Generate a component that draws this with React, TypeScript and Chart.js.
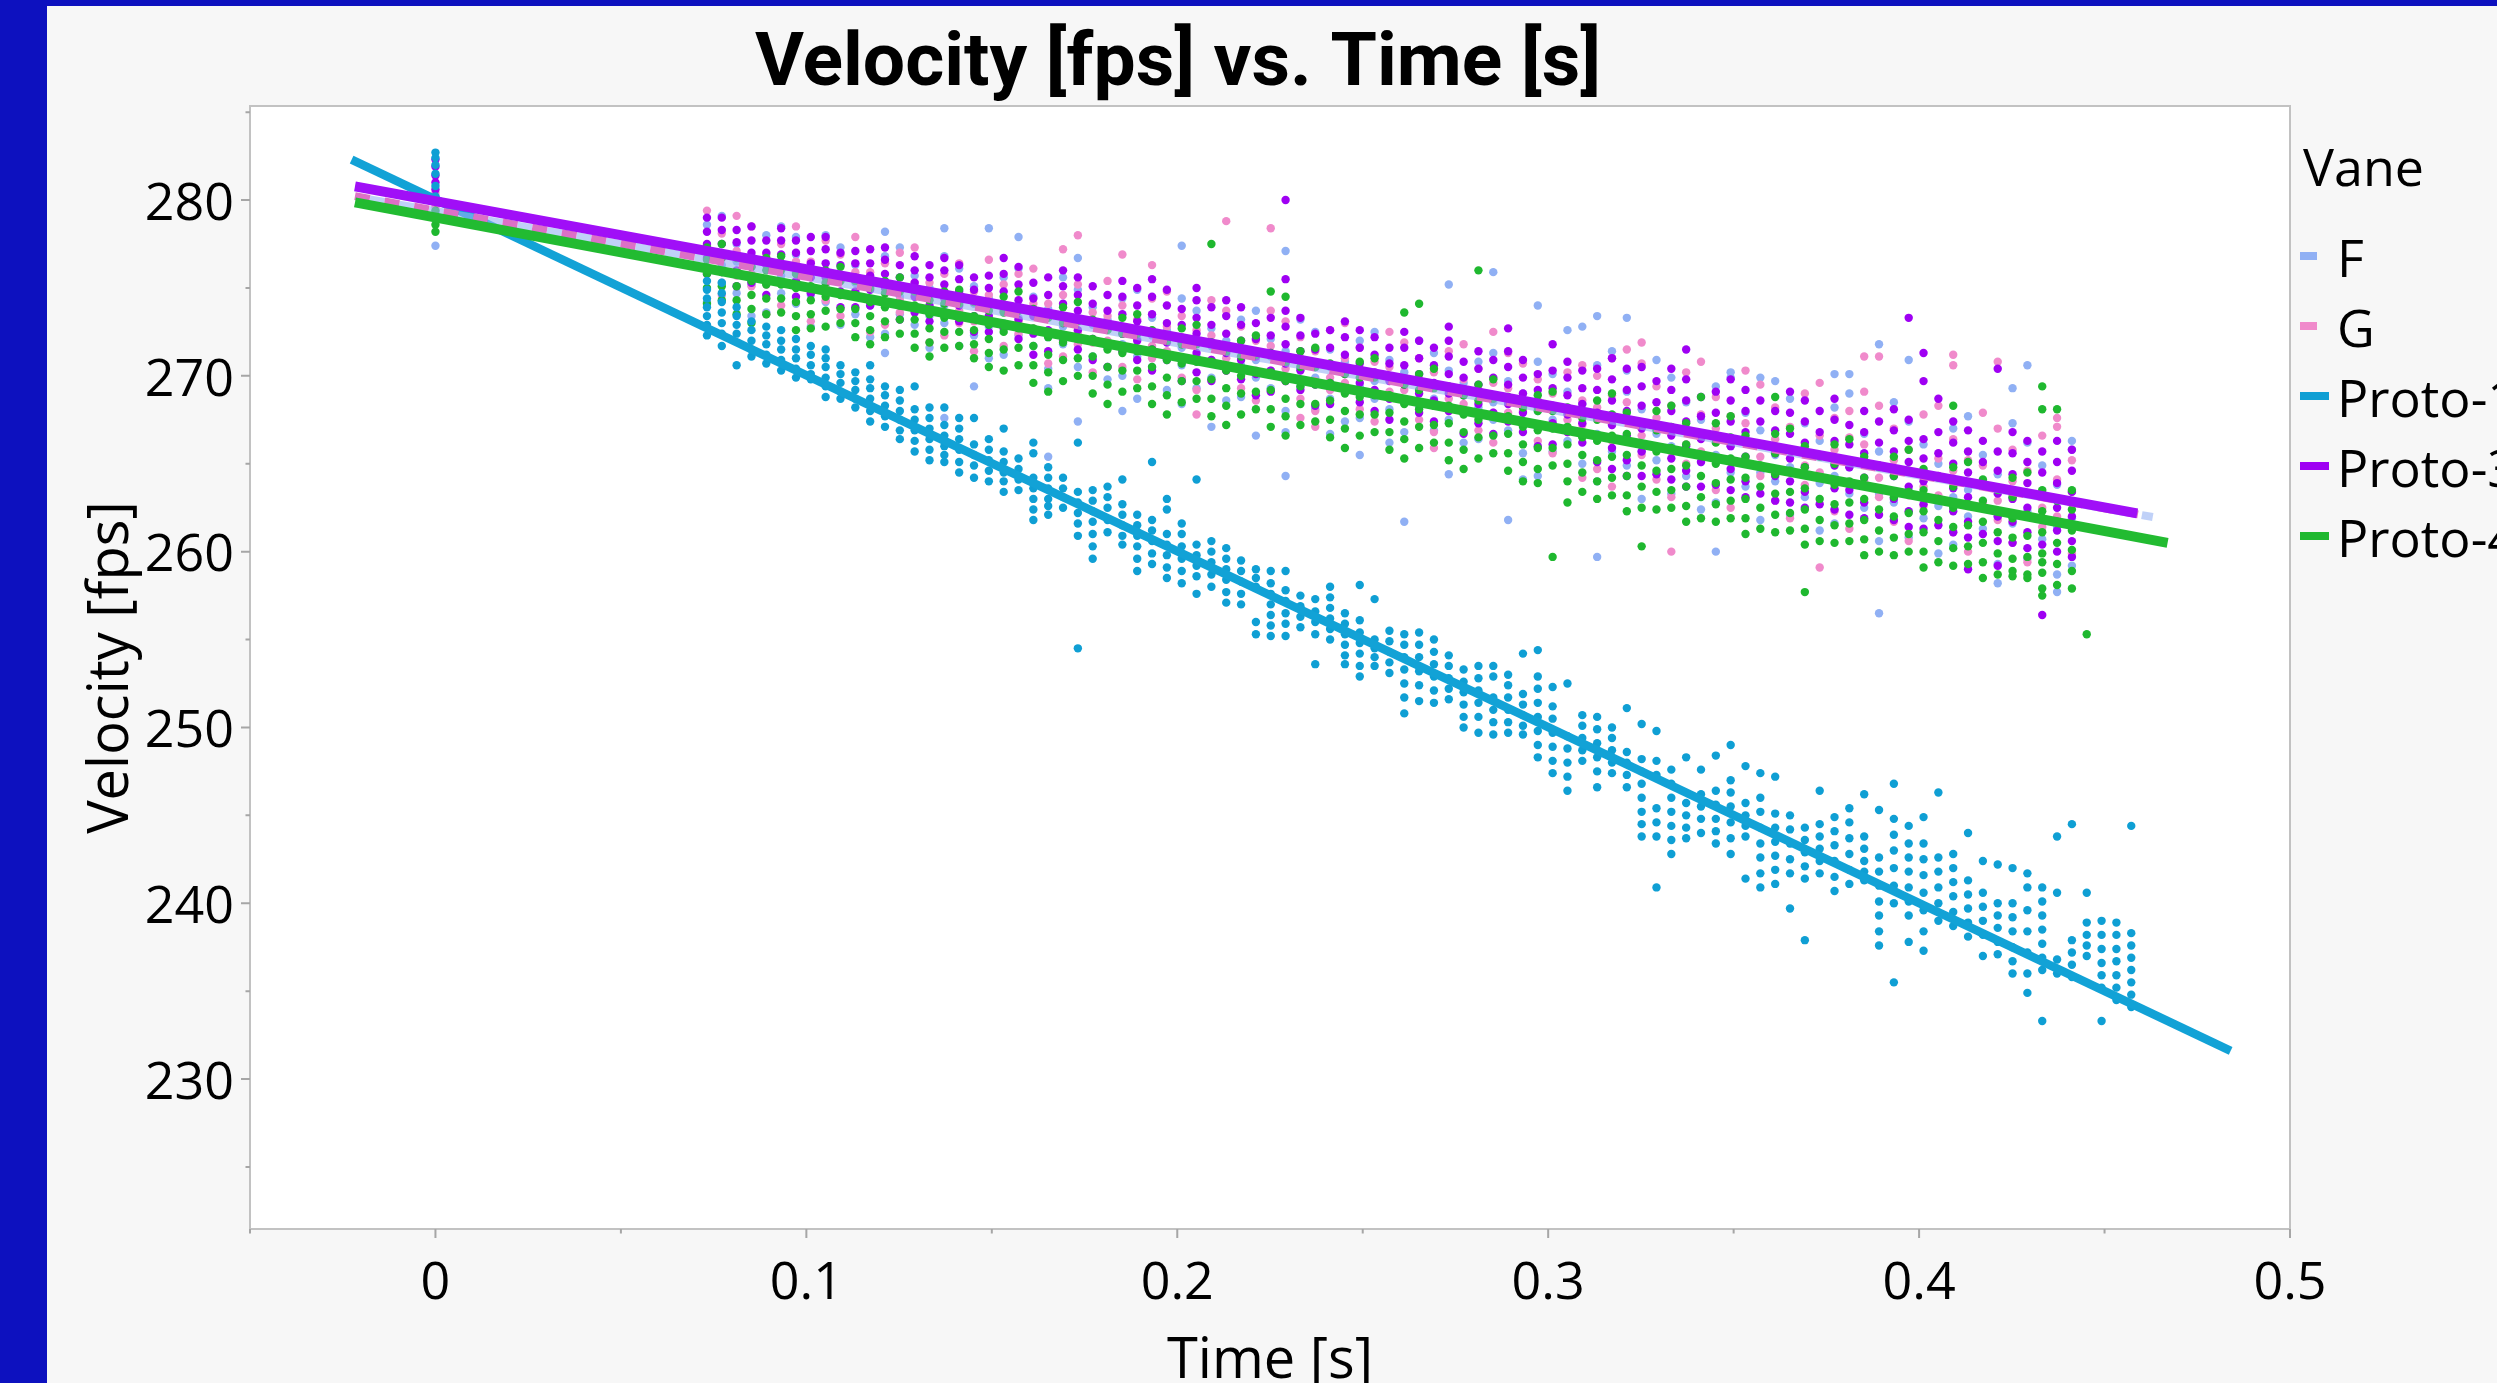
import React, { useEffect, useRef } from "react";
import { Chart, registerables } from "chart.js";
Chart.register(...registerables);

// Time columns (s): index 0 is t = 0, then the sampled frames
const TIMES = [0, 0.0732, 0.0772, 0.0812, 0.0852, 0.0892, 0.0932, 0.0972, 0.1012, 0.1052, 0.1092, 0.1132, 0.1172, 0.1212, 0.1252, 0.1292, 0.1332, 0.1372, 0.1412, 0.1452, 0.1492, 0.1532, 0.1572, 0.1612, 0.1652, 0.1692, 0.1732, 0.1772, 0.1812, 0.1852, 0.1892, 0.1932, 0.1972, 0.2012, 0.2052, 0.2092, 0.2132, 0.2172, 0.2212, 0.2252, 0.2292, 0.2332, 0.2372, 0.2412, 0.2452, 0.2492, 0.2532, 0.2572, 0.2612, 0.2652, 0.2692, 0.2732, 0.2772, 0.2812, 0.2852, 0.2892, 0.2932, 0.2972, 0.3012, 0.3052, 0.3092, 0.3132, 0.3172, 0.3212, 0.3252, 0.3292, 0.3332, 0.3372, 0.3412, 0.3452, 0.3492, 0.3532, 0.3572, 0.3612, 0.3652, 0.3692, 0.3732, 0.3772, 0.3812, 0.3852, 0.3892, 0.3932, 0.3972, 0.4012, 0.4052, 0.4092, 0.4132, 0.4172, 0.4212, 0.4252, 0.4292, 0.4332, 0.4372, 0.4412, 0.4452, 0.4492, 0.4532, 0.4572];

// Velocity readings (fps) per time column, one list per column
const PROTO1_COLS: number[][] = [
  [282.7, 282.4, 282.0, 281.5, 280.8, 280.2],
  [275.4, 274.9, 274.4, 273.9, 273.4, 272.9, 272.3], [275.3, 274.7, 274.2, 273.6, 273.0, 272.4, 271.7], [273.9, 273.4, 272.9, 272.4, 270.6], [273.1, 272.6, 272.0, 271.5, 271.1], [272.8, 272.3, 271.8, 271.2, 270.7],
  [272.6, 272.0, 271.5, 270.9, 270.3], [272.1, 271.5, 271.0, 270.4, 269.9], [271.7, 271.2, 270.6, 270.1, 269.8], [271.5, 271.0, 270.5, 269.9, 269.4, 268.8], [270.6, 270.1, 269.6, 269.1, 268.7],
  [270.2, 269.7, 269.2, 268.7, 268.2], [270.6, 269.8, 269.3, 268.7, 268.0, 267.4], [269.4, 268.9, 268.3, 267.7, 267.1], [269.2, 268.6, 268.0, 267.5, 266.9, 266.4], [269.4, 268.1, 267.5, 266.9, 266.3, 265.7],
  [268.2, 267.6, 267.0, 266.4, 265.8, 265.2], [268.2, 267.2, 266.6, 266.0, 265.5, 265.1], [267.6, 267.0, 266.4, 265.8, 265.1, 264.5], [267.6, 266.1, 265.5, 264.9, 264.2], [266.4, 265.8, 265.2, 264.6, 264.0],
  [267.0, 265.7, 265.1, 264.5, 264.0, 263.4], [265.3, 264.7, 264.1, 263.5], [266.2, 265.6, 264.2, 263.6, 263.0, 262.4, 261.8], [264.8, 264.2, 263.6, 263.0, 262.6, 262.1], [264.2, 263.6, 263.1, 262.5],
  [266.2, 263.4, 262.8, 262.2, 261.6, 260.9, 254.5], [263.5, 262.9, 262.3, 261.7, 261.0, 260.3, 259.6], [263.7, 263.1, 262.5, 261.8, 261.1], [264.1, 262.7, 262.1, 261.5, 260.9, 260.4], [262.1, 261.5, 260.9, 260.3, 259.6, 258.9],
  [265.1, 261.8, 261.2, 260.6, 259.9, 259.3], [263.0, 262.4, 261.0, 260.4, 259.8, 259.1, 258.5], [261.6, 261.0, 260.3, 259.6, 258.9, 258.2], [264.1, 260.4, 259.8, 259.2, 258.6, 257.6], [260.6, 260.0, 259.4, 258.7, 258.0],
  [260.2, 259.6, 259.0, 258.4, 257.7, 257.1], [259.5, 258.9, 258.3, 257.6, 257.0], [259.0, 258.5, 258.0, 256.0, 255.3], [258.9, 258.2, 257.6, 257.0, 256.4, 255.8, 255.2], [258.9, 257.8, 257.2, 256.5, 255.9, 255.2],
  [257.5, 256.9, 256.3, 255.7], [257.3, 256.6, 256.0, 255.3, 253.6], [258.0, 257.4, 256.8, 256.2, 255.6, 255.0], [256.5, 255.9, 255.3, 254.7, 254.1, 253.6], [258.1, 256.1, 255.4, 254.8, 254.2, 253.5, 252.9],
  [257.3, 255.0, 254.5, 254.0, 253.5], [255.5, 254.9, 254.3, 253.7, 253.1], [255.3, 254.7, 254.0, 253.3, 252.5, 251.7, 250.8], [255.4, 254.7, 254.0, 253.2, 252.4, 251.5], [255.0, 254.3, 253.6, 252.9, 252.1, 251.4],
  [254.1, 253.5, 252.8, 252.2, 251.6], [253.3, 252.6, 252.0, 251.3, 250.6, 250.0], [253.5, 252.8, 252.1, 251.4, 250.6, 249.7], [253.5, 252.9, 251.7, 251.0, 250.3, 249.6], [253.0, 252.4, 251.7, 251.0, 250.3, 249.7],
  [254.2, 251.9, 251.3, 250.7, 250.1, 249.6], [254.4, 252.9, 252.2, 251.4, 250.6, 249.8, 249.0, 248.3], [252.3, 251.2, 250.5, 249.7, 248.9, 248.1, 247.4], [252.5, 249.5, 248.8, 248.0, 247.2, 246.4], [250.7, 250.1, 249.4, 248.7, 248.1],
  [250.6, 249.9, 249.1, 248.3, 247.5, 246.6], [250.0, 249.4, 248.7, 248.0, 247.4], [251.1, 248.6, 248.0, 247.3, 246.6], [250.2, 248.2, 247.5, 246.8, 246.0, 245.2, 244.5, 243.8], [249.8, 248.1, 247.3, 245.4, 244.6, 243.8, 240.9],
  [247.6, 246.8, 246.0, 245.2, 244.4, 243.6, 242.8], [248.3, 245.7, 245.0, 244.3, 243.7], [247.6, 246.2, 245.5, 244.8, 244.0], [248.4, 246.4, 245.6, 244.8, 244.1, 243.4], [249.0, 247.0, 246.3, 245.5, 244.6, 243.7, 242.8],
  [247.8, 245.7, 245.0, 244.4, 243.8, 241.4], [247.4, 246.0, 245.2, 244.3, 243.4, 242.6, 241.7, 240.9], [247.2, 245.1, 244.3, 243.5, 242.7, 241.9, 241.1], [245.0, 244.2, 243.4, 242.5, 241.7, 239.7], [244.3, 243.6, 242.9, 242.1, 241.4, 237.9],
  [246.4, 244.5, 243.8, 243.1, 242.4, 241.7], [244.9, 244.1, 243.3, 242.4, 241.5, 240.7], [245.4, 244.6, 243.7, 242.8, 241.9, 241.1], [246.2, 243.8, 243.1, 242.4, 241.8, 241.3], [245.3, 242.6, 241.8, 241.0, 240.1, 239.3, 238.4, 237.6],
  [246.8, 244.8, 243.9, 243.0, 242.0, 241.0, 240.0, 235.5], [244.4, 243.4, 242.6, 241.8, 240.9, 240.1, 239.3, 237.8], [244.9, 243.4, 242.5, 241.6, 240.6, 239.6, 238.4, 237.3], [246.3, 242.6, 241.8, 240.9, 240.0, 239.0], [242.8, 242.0, 241.2, 240.4, 239.5, 238.7],
  [244.0, 241.3, 240.5, 239.7, 238.9, 238.1], [242.4, 240.6, 239.8, 239.0, 238.2, 237.0], [242.2, 240.0, 239.3, 238.6, 237.8, 237.1], [242.0, 240.0, 239.2, 238.4, 237.5, 236.7, 236.0], [241.7, 240.9, 239.6, 238.4, 237.2, 236.0, 234.9],
  [240.9, 240.1, 239.3, 238.5, 237.7, 236.9, 236.2, 233.3], [243.8, 240.6, 236.8, 236.0], [244.5, 237.9, 237.2, 236.5, 235.8], [240.6, 238.9, 238.2, 237.6, 237.0], [239.0, 238.2, 237.4, 236.6, 235.9, 235.2, 233.3],
  [238.9, 238.2, 237.4, 236.7, 235.9, 235.2, 234.5], [244.4, 238.3, 237.6, 236.9, 236.2, 235.5, 234.8, 234.1],
];

const PROTO3_COLS: number[][] = [
  [282.3, 281.9, 281.4, 281.0, 280.6],
  [279.0, 278.2, 277.5, 276.7, 275.8], [279.0, 278.3, 277.5, 276.7, 275.9], [278.3, 277.6, 276.8, 276.0, 275.1], [278.5, 277.7, 277.0, 276.2, 275.3], [277.7, 277.0, 276.3, 275.5, 274.6],
  [278.4, 277.7, 276.9, 276.1, 275.3], [277.7, 277.0, 276.2, 275.4, 274.5], [277.9, 277.1, 276.4, 275.6, 274.7], [277.9, 277.2, 276.4, 275.6, 274.8], [277.0, 276.3, 275.6, 274.8, 273.9],
  [277.1, 276.4, 275.6, 274.8, 273.9], [277.2, 276.4, 275.7, 274.9, 274.0], [277.3, 276.6, 275.8, 275.0, 274.2], [276.3, 275.6, 274.9, 274.1, 273.2], [276.8, 276.0, 275.3, 274.5, 273.6],
  [276.3, 275.6, 274.8, 274.0, 273.1], [276.7, 276.0, 275.2, 274.4, 273.6], [276.3, 275.5, 274.8, 274.0, 273.1], [275.6, 274.9, 274.2, 273.4, 272.5], [275.7, 275.0, 274.2, 273.4, 272.5],
  [276.7, 275.8, 274.8, 273.7, 272.7], [276.2, 275.2, 274.3, 273.2, 272.1], [275.3, 274.4, 273.4, 272.4, 271.2], [275.6, 274.6, 273.6, 272.6, 271.4], [276.0, 275.1, 274.1, 273.0, 272.0],
  [275.6, 274.6, 273.7, 272.6, 271.5], [275.1, 274.1, 273.1, 272.1, 270.9], [274.6, 273.7, 272.7, 271.7, 270.5], [275.4, 274.5, 273.5, 272.4, 271.4], [275.0, 274.0, 273.1, 272.0, 270.9],
  [275.5, 274.5, 273.5, 272.5, 271.5, 270.3], [274.9, 274.0, 273.0, 271.9, 270.9], [273.8, 272.9, 271.9, 270.9, 269.7], [275.0, 274.3, 273.3, 272.4, 271.3, 270.2], [273.9, 272.9, 271.9, 270.9, 269.7],
  [274.3, 273.4, 272.4, 271.3, 270.3], [273.9, 272.9, 272.0, 270.9, 269.8], [273.0, 272.1, 271.1, 270.1, 268.9], [273.3, 272.3, 271.3, 270.3, 269.1], [280.0, 275.5, 273.7, 272.8, 271.8, 270.7, 269.7],
  [273.3, 272.3, 271.4, 270.3, 269.2], [272.4, 271.5, 270.5, 269.5, 268.3], [272.6, 271.6, 270.6, 269.6, 268.4], [273.1, 272.2, 271.2, 270.1, 269.1], [272.6, 271.6, 270.7, 269.6, 268.5],
  [272.2, 271.2, 270.2, 269.2, 268.0], [271.6, 270.7, 269.7, 268.7, 267.5], [272.5, 271.6, 270.6, 269.5, 268.5], [272.0, 271.0, 270.1, 269.0, 267.9], [271.6, 270.6, 269.6, 268.6, 267.4],
  [272.8, 272.0, 271.1, 270.1, 269.0, 268.0], [270.8, 269.9, 268.9, 267.9, 266.7], [271.4, 270.4, 269.5, 268.4, 267.3], [270.9, 269.9, 268.9, 267.9, 266.7], [272.7, 271.4, 270.5, 269.5, 268.4, 267.4],
  [270.9, 269.9, 269.0, 267.9, 266.8], [270.1, 269.2, 268.2, 267.2, 266.0], [271.8, 270.3, 269.3, 268.3, 267.3, 266.1], [270.8, 269.9, 268.9, 267.8, 266.8], [270.3, 269.3, 268.4, 267.3, 266.2],
  [270.4, 269.2, 267.9, 266.6, 265.1], [271.0, 269.8, 268.6, 267.2, 265.9, 264.7], [270.4, 269.2, 268.0, 266.6, 265.2, 264.3], [270.5, 269.4, 268.3, 267.0, 265.7, 264.3], [269.7, 268.5, 267.2, 265.9, 264.4],
  [270.4, 269.2, 268.0, 266.6, 265.3, 264.1], [271.5, 269.8, 268.6, 267.4, 266.0, 264.6, 263.7], [268.8, 267.7, 266.4, 265.1, 263.7], [269.1, 267.9, 266.6, 265.3, 263.8], [269.8, 268.6, 267.4, 266.0, 264.7, 263.5],
  [269.2, 268.0, 266.8, 265.4, 264.0, 263.1], [268.6, 267.4, 266.1, 264.8, 263.3], [268.0, 266.9, 265.6, 264.3, 262.9], [269.1, 267.9, 266.7, 265.3, 264.0, 262.8], [268.6, 267.4, 266.2, 264.8, 263.4, 262.5],
  [268.0, 266.8, 265.5, 264.2, 262.7], [268.7, 267.5, 266.3, 264.9, 263.6, 262.4], [267.2, 266.1, 264.8, 263.5, 262.1], [268.0, 266.8, 265.6, 264.2, 262.8, 261.9], [267.4, 266.2, 264.9, 263.6, 262.1],
  [268.1, 266.9, 265.7, 264.3, 263.0, 261.8], [273.3, 267.5, 266.3, 265.1, 263.7, 262.3, 261.4], [271.3, 269.7, 266.4, 265.3, 264.0, 262.7, 261.3], [268.7, 266.8, 265.6, 264.3, 263.0, 261.5], [267.4, 266.2, 265.0, 263.6, 262.3, 261.1],
  [266.9, 265.7, 264.5, 263.1, 261.7, 260.8, 259.0], [266.3, 265.1, 263.8, 262.5, 261.0], [270.4, 265.7, 264.6, 263.3, 262.0, 260.6, 259.2], [266.8, 265.6, 264.4, 263.0, 261.7, 260.5], [266.3, 265.1, 263.9, 262.5, 261.1, 260.2],
  [265.7, 264.5, 263.2, 261.9, 260.4, 256.4], [266.3, 265.1, 263.9, 262.5, 261.2, 260.0], [265.8, 264.6, 263.4, 262.0, 260.6, 259.7],
];

const PROTO4_COLS: number[][] = [
  [279.4, 279.0, 278.6, 278.2],
  [277.3, 276.6, 275.8, 275.0, 274.1], [277.5, 276.7, 275.9, 275.1, 274.3], [276.7, 275.9, 275.1, 274.3, 273.5], [276.2, 275.4, 274.6, 273.8, 273.0], [276.7, 276.0, 275.2, 274.4, 273.5],
  [276.8, 276.0, 275.2, 274.4, 273.6], [275.8, 275.0, 274.2, 273.4, 272.6], [275.9, 275.1, 274.3, 273.5, 272.7], [276.0, 275.3, 274.5, 273.7, 272.8], [276.2, 275.4, 274.6, 273.8, 273.0],
  [275.4, 274.6, 273.8, 273.0, 272.2], [275.0, 274.2, 273.4, 272.6, 271.8], [275.4, 274.7, 273.9, 273.1, 272.2], [275.6, 274.8, 274.0, 273.2, 272.4], [274.8, 274.0, 273.2, 272.4, 271.6],
  [274.3, 273.5, 272.7, 271.9, 271.1], [274.8, 274.1, 273.3, 272.5, 271.6], [274.9, 274.1, 273.3, 272.5, 271.7], [274.2, 273.4, 272.6, 271.8, 271.0], [273.7, 272.9, 272.1, 271.3, 270.5],
  [274.5, 273.6, 272.5, 271.5, 270.3], [274.8, 273.7, 272.7, 271.6, 270.6], [273.8, 272.7, 271.7, 270.6, 269.6], [273.3, 272.2, 271.2, 270.2, 269.1], [273.9, 273.0, 271.9, 270.9, 269.7],
  [274.2, 273.1, 272.1, 271.0, 270.0], [273.2, 272.1, 271.1, 270.0, 269.0], [272.6, 271.5, 270.5, 269.5, 268.4], [273.3, 272.4, 271.3, 270.3, 269.1], [273.5, 272.4, 271.4, 270.3, 269.3],
  [272.6, 271.5, 270.5, 269.4, 268.4], [272.0, 270.9, 269.9, 268.9, 267.8], [272.7, 271.8, 270.7, 269.7, 268.5], [272.9, 271.8, 270.8, 269.7, 268.7], [277.5, 271.9, 270.8, 269.8, 268.7, 267.7],
  [271.4, 270.3, 269.3, 268.3, 267.2], [272.0, 271.1, 270.0, 269.0, 267.8], [272.3, 271.2, 270.2, 269.1, 268.1], [274.8, 271.3, 270.2, 269.2, 268.1, 267.1], [274.5, 270.8, 269.7, 268.7, 267.7, 266.6],
  [271.4, 270.5, 269.4, 268.4, 267.2], [271.6, 270.5, 269.5, 268.4, 267.4], [270.7, 269.6, 268.6, 267.5, 266.5], [270.1, 269.0, 268.0, 267.0, 265.9], [270.8, 269.9, 268.8, 267.8, 266.6],
  [271.0, 269.9, 268.9, 267.8, 266.8], [270.0, 268.9, 267.9, 266.8, 265.8], [273.6, 269.5, 268.4, 267.4, 266.4, 265.3], [274.1, 270.1, 269.2, 268.1, 267.1, 265.9], [270.4, 269.3, 268.3, 267.2, 266.2],
  [269.4, 268.3, 267.3, 266.2, 265.2], [268.9, 267.8, 266.8, 265.8, 264.7], [276.0, 269.5, 268.6, 267.5, 266.5, 265.3], [269.8, 268.7, 267.7, 266.6, 265.6], [268.8, 267.7, 266.7, 265.6, 264.6],
  [268.2, 267.1, 266.1, 265.1, 264.0], [268.9, 268.0, 266.9, 265.9, 264.7, 263.9], [269.1, 268.0, 267.0, 265.9, 264.9, 259.7], [268.2, 267.1, 266.1, 265.0, 264.0, 262.8], [267.6, 266.5, 265.5, 264.5, 263.4],
  [268.6, 267.5, 266.3, 265.2, 264.0, 263.0], [269.0, 267.8, 266.6, 265.4, 264.2, 263.2], [267.9, 266.7, 265.5, 264.3, 263.2, 262.3], [267.3, 266.1, 264.9, 263.7, 262.5, 260.3], [268.0, 266.9, 265.7, 264.6, 263.4, 262.4],
  [268.3, 267.1, 265.9, 264.7, 263.5, 262.5], [267.3, 266.1, 264.9, 263.7, 262.6, 261.7], [268.8, 266.7, 265.5, 264.3, 263.1, 261.9], [267.3, 266.2, 265.0, 263.9, 262.7, 261.7], [267.7, 266.5, 265.3, 264.1, 262.9, 261.9],
  [266.6, 265.4, 264.2, 263.0, 261.9, 261.0], [266.1, 264.9, 263.7, 262.5, 261.3], [268.8, 266.7, 265.6, 264.4, 263.3, 262.1, 261.1], [267.0, 265.8, 264.6, 263.4, 262.2, 261.2], [266.0, 264.8, 263.6, 262.4, 261.3, 260.4, 257.7],
  [265.4, 264.2, 263.0, 261.8, 260.6], [266.1, 265.0, 263.8, 262.7, 261.5, 260.5], [266.4, 265.2, 264.0, 262.8, 261.6, 260.6], [265.4, 264.2, 263.0, 261.8, 260.7, 259.8], [264.8, 263.6, 262.4, 261.2, 260.0],
  [265.4, 264.3, 263.1, 262.0, 260.8, 259.8], [265.8, 264.6, 263.4, 262.2, 261.0, 260.0], [264.7, 263.5, 262.3, 261.1, 260.0, 259.1], [264.2, 263.0, 261.8, 260.6, 259.4], [268.3, 264.8, 263.7, 262.5, 261.4, 260.2, 259.2],
  [265.1, 263.9, 262.7, 261.5, 260.3, 259.3], [264.1, 262.9, 261.7, 260.5, 259.4, 258.5], [263.5, 262.3, 261.1, 259.9, 258.7], [264.2, 263.1, 261.9, 260.8, 259.6, 258.9, 258.6], [264.5, 263.3, 262.1, 260.9, 259.7, 258.7, 258.5],
  [269.4, 268.1, 263.5, 262.3, 261.1, 259.9, 259.4, 258.8, 257.9, 257.5], [268.1, 262.9, 261.7, 260.5, 259.3, 258.1], [263.5, 262.4, 261.2, 260.1, 258.9, 257.9], [255.3],
];

const F_COLS: number[][] = [
  [280.2, 279.3, 277.4],
  [278.6, 276.0, 274.2], [279.1, 276.3, 275.3], [277.5, 276.5, 274.7], [276.8, 275.2, 273.4], [278.0, 275.4, 273.6],
  [278.5, 275.7, 274.7], [277.9, 276.9, 275.9, 274.1], [276.2, 274.6, 272.8], [278.0, 275.2, 274.2], [277.3, 274.7, 272.9],
  [276.3, 275.3, 273.5], [275.6, 274.0, 272.2], [278.2, 276.8, 274.2, 272.4, 271.3], [277.3, 274.5, 273.5], [275.7, 274.7, 272.9],
  [275.0, 273.4, 271.6], [278.4, 276.8, 274.0, 273.0, 267.6], [276.1, 273.5, 271.7], [275.1, 274.1, 272.3, 269.4], [278.4, 274.4, 272.8, 271.0],
  [275.6, 273.0, 271.2], [277.9, 276.1, 273.3, 272.3], [274.5, 273.5, 271.7], [273.8, 272.2, 270.4, 269.3, 265.4], [275.6, 272.8, 271.8],
  [276.7, 274.9, 272.3, 270.5, 267.4], [273.9, 272.9, 271.1], [273.2, 271.6, 269.8], [274.4, 271.8, 270.0, 268.0], [274.9, 272.1, 271.1, 268.7],
  [273.3, 272.3, 270.5], [272.6, 271.0, 269.2], [277.4, 274.4, 271.6, 270.6, 268.4], [273.7, 271.1, 269.3], [272.7, 271.7, 269.9, 267.1],
  [272.0, 270.4, 268.6], [273.2, 270.6, 268.8], [273.7, 270.9, 269.9, 266.6], [272.1, 271.1, 269.3], [277.1, 271.4, 269.8, 268.0, 266.8, 264.3],
  [273.2, 270.4, 269.4], [272.5, 269.9, 268.1], [271.5, 270.5, 268.7, 266.7], [270.8, 269.2, 267.4], [272.0, 269.4, 267.6, 265.5],
  [272.5, 269.7, 268.7], [270.9, 269.9, 268.1, 266.2], [270.2, 268.6, 266.8, 261.7], [272.0, 269.2, 268.2], [271.3, 268.7, 266.9],
  [275.2, 270.3, 269.3, 267.5, 264.4], [269.6, 268.0, 266.2], [270.8, 268.2, 266.4], [275.9, 271.3, 268.5, 267.5], [269.7, 268.7, 266.9, 261.8],
  [269.0, 267.4, 265.6, 264.1], [274.0, 270.8, 268.0, 267.0, 264.3], [270.1, 267.5, 265.7], [272.6, 269.1, 268.1, 266.3], [272.8, 268.4, 266.8, 265.0],
  [273.4, 270.6, 266.7, 264.0, 259.7], [271.4, 267.2, 265.7], [273.3, 270.3, 269.1, 267.6, 264.9], [268.1, 265.7, 263.0], [270.9, 266.7, 265.2],
  [269.9, 266.0, 263.3], [268.5, 267.0, 264.3], [267.5, 265.1, 262.4], [269.4, 265.5, 262.8, 260.0], [270.2, 269.9, 266.0, 264.5],
  [267.9, 266.4, 263.7], [269.9, 266.9, 264.5, 261.8], [269.7, 265.5, 264.0], [268.7, 264.8, 262.1], [267.3, 265.8, 263.1],
  [266.3, 263.9, 261.2], [270.1, 268.2, 264.3, 261.6], [270.1, 269.0, 264.8, 263.3], [266.7, 265.2, 262.5], [271.8, 265.7, 263.3, 260.6, 256.5],
  [268.5, 264.3, 262.8], [270.9, 267.4, 263.5, 260.8], [266.1, 264.6, 261.9], [265.0, 262.6, 259.9], [267.0, 263.1, 260.4],
  [267.7, 263.5, 262.0], [265.5, 264.0, 261.3], [264.4, 262.0, 259.3, 258.2], [269.3, 267.3, 263.1, 261.6], [270.6, 266.2, 262.3, 259.6],
  [264.9, 263.4, 260.7], [263.8, 261.4, 258.7, 257.7], [266.3, 265.8, 261.9, 259.2],
];

const G_COLS: number[][] = [
  [280.4, 280.0, 279.6],
  [279.4, 277.4, 276.0], [278.1, 276.9, 274.6], [279.1, 277.1, 275.7], [278.5, 275.8, 275.1], [276.9, 275.2, 273.5],
  [277.5, 276.3, 274.0], [278.5, 276.5, 275.1], [276.5, 274.8, 273.1], [277.7, 275.0, 274.3], [276.9, 275.7, 273.4],
  [277.9, 275.9, 274.5], [275.9, 274.2, 272.5], [276.4, 275.2, 272.9], [277.0, 274.3, 273.6], [277.3, 275.3, 273.9],
  [275.3, 273.6, 271.9], [275.8, 274.6, 272.3], [276.4, 273.7, 273.0], [274.8, 273.1, 271.4], [276.6, 274.6, 273.2],
  [275.2, 274.0, 271.7], [275.8, 273.1, 272.4], [276.1, 274.1, 272.7], [274.1, 272.4, 270.7], [277.2, 274.6, 273.4, 271.1],
  [278.0, 275.2, 272.5, 271.8], [273.6, 271.9, 270.2], [275.4, 273.4, 272.0], [276.9, 274.0, 272.8, 270.5], [273.2, 271.5, 269.8],
  [276.3, 274.4, 271.7, 271.0], [274.8, 272.8, 271.4], [273.4, 272.2, 269.9], [272.6, 270.9, 269.2, 267.8], [274.3, 272.3, 270.9],
  [278.8, 273.7, 271.0, 270.3], [272.8, 271.6, 269.3], [272.0, 270.3, 268.6], [278.4, 273.7, 271.7, 270.3], [273.1, 270.4, 269.7],
  [272.2, 271.0, 268.7, 267.6], [271.4, 269.7, 268.0, 267.1], [272.6, 269.9, 269.2], [273.0, 271.0, 269.6], [271.6, 270.4, 268.1],
  [270.8, 269.1, 267.4], [272.5, 270.5, 269.1], [271.9, 269.2, 268.5], [271.0, 269.8, 267.5], [270.2, 268.5, 266.8, 265.9],
  [271.4, 268.7, 268.0], [271.8, 269.8, 268.4], [270.4, 269.2, 266.9], [272.5, 269.6, 267.9, 266.2], [271.3, 269.3, 267.9],
  [270.7, 268.0, 267.3], [269.8, 268.6, 266.3], [269.0, 267.3, 265.6], [270.2, 267.5, 266.8], [270.6, 268.6, 267.2, 264.2],
  [270.0, 268.2, 264.7], [271.0, 268.9, 266.3, 263.7], [271.5, 268.5, 266.4], [271.9, 270.7, 266.6, 265.5], [269.4, 267.6, 264.1],
  [268.3, 265.7, 263.1, 260.0], [270.2, 266.1, 265.0], [270.8, 267.8, 265.7], [268.8, 267.0, 263.5], [267.7, 265.1, 262.5],
  [270.3, 267.3, 265.2], [269.5, 265.4, 264.3], [268.2, 266.4, 262.9], [267.1, 264.5, 261.9], [269.0, 264.9, 263.8],
  [269.6, 266.6, 264.5, 259.1], [267.6, 265.8, 262.3], [268.0, 266.5, 263.9, 261.3], [271.1, 269.1, 266.1, 264.0], [271.1, 268.3, 264.2, 263.1],
  [267.0, 265.2, 261.7], [265.8, 263.2, 260.6], [267.8, 263.7, 262.6], [268.3, 265.3, 263.2], [271.2, 270.6, 266.4, 264.6, 261.1],
  [265.2, 262.6, 260.0], [267.9, 264.9, 262.8], [270.8, 267.0, 262.9, 261.8], [265.8, 264.0, 260.5], [264.6, 262.0, 259.4],
  [266.6, 262.5, 261.4], [267.6, 267.1, 264.1, 262.0], [265.2, 263.4, 259.9],
];

// Fitted lines: [time, velocity] at start and end
const PROTO1_FIT = [[-0.0226, 282.3], [0.484, 231.6]];
const PROTO3_FIT = [[-0.0217, 280.78], [0.4588, 262.18]];
const PROTO4_FIT = [[-0.0217, 279.87], [0.467, 260.5]];
const F_FIT = [[-0.0217, 280.19], [0.463, 261.97]];
const G_FIT = [[-0.0217, 280.22], [0.459, 262.12]];

const X_MAJOR = [0, 0.1, 0.2, 0.3, 0.4, 0.5];
const X_MINOR = [-0.05, 0.05, 0.15, 0.25, 0.35, 0.45];
const Y_MAJOR = [230, 240, 250, 260, 270, 280];
const Y_MINOR = [225, 235, 245, 255, 265, 275, 285];

const LEGEND_TITLE = "Vane";
const LEGEND_LABELS = ["F", "G", "Proto-1", "Proto-3", "Proto-4"];

const COLORS = {
  F: "#90b0f4",
  G: "#f08acb",
  P1: "#0f9fd4",
  P3: "#9f00f3",
  P4: "#1fb82f",
};

const FONT = '"Open Sans", "Noto Sans", sans-serif';

function toPoints(cols: number[][]) {
  const pts: { x: number; y: number }[] = [];
  cols.forEach((col, i) => col.forEach((v) => pts.push({ x: TIMES[i], y: v })));
  return pts;
}
function fitPoints(fit: number[][]) {
  return fit.map(([x, y]) => ({ x, y }));
}

const decor = {
  id: "decor",
  beforeDraw(chart: any) {
    const { ctx, chartArea: a } = chart;
    ctx.save();
    ctx.fillStyle = "#ffffff";
    ctx.fillRect(a.left, a.top, a.right - a.left, a.bottom - a.top);
    ctx.restore();
  },
  afterDraw(chart: any) {
    const { ctx, chartArea: a, scales } = chart;
    const xs = scales.x, ys = scales.y;
    ctx.save();
    ctx.strokeStyle = "#c2c2c2";
    ctx.lineWidth = 2;
    ctx.strokeRect(a.left, a.top, a.right - a.left, a.bottom - a.top);
    ctx.strokeStyle = "#a6a6a6";
    ctx.lineWidth = 2;
    ctx.beginPath();
    X_MAJOR.forEach((v) => { const p = xs.getPixelForValue(v); ctx.moveTo(p, a.bottom); ctx.lineTo(p, a.bottom + 9); });
    X_MINOR.forEach((v) => { const p = xs.getPixelForValue(v); ctx.moveTo(p, a.bottom); ctx.lineTo(p, a.bottom + 4.5); });
    Y_MAJOR.forEach((v) => { const p = ys.getPixelForValue(v); ctx.moveTo(a.left, p); ctx.lineTo(a.left - 9, p); });
    Y_MINOR.forEach((v) => { const p = ys.getPixelForValue(v); ctx.moveTo(a.left, p); ctx.lineTo(a.left - 4.5, p); });
    ctx.stroke();

    ctx.fillStyle = "#000000";
    ctx.font = 'bold 75px Roboto, "Open Sans", sans-serif';
    ctx.textAlign = "center";
    ctx.textBaseline = "alphabetic";
    ctx.fillText("Velocity [fps] vs. Time [s]", 1178, 85);
    ctx.font = "56px " + FONT;
    ctx.fillText("Time [s]", (a.left + a.right) / 2, 1378);
    ctx.save();
    ctx.translate(128, (a.top + a.bottom) / 2);
    ctx.rotate(-Math.PI / 2);
    ctx.fillText("Velocity [fps]", 0, 0);
    ctx.restore();
    ctx.textAlign = "left";
    ctx.font = "52px " + FONT;
    ctx.fillText(LEGEND_TITLE, 2303, 186);
    const swatch = [COLORS.F, COLORS.G, COLORS.P1, COLORS.P3, COLORS.P4];
    const widths = [17, 17, 29, 29, 29];
    LEGEND_LABELS.forEach((lab, i) => {
      const base = 277 + i * 70;
      ctx.fillStyle = swatch[i];
      ctx.fillRect(2300, base - 25, widths[i], 8);
      ctx.fillStyle = "#000000";
      ctx.fillText(lab, 2337, base);
    });
    ctx.restore();
  },
};

export default function App() {
  const ref = useRef<HTMLCanvasElement>(null);
  useEffect(() => {
    document.body.style.margin = "0";
    const pointDs = (data: number[][], color: string, order: number) => ({
      data: toPoints(data),
      pointBackgroundColor: color,
      backgroundColor: color,
      pointBorderWidth: 0,
      pointRadius: 4.2,
      showLine: false,
      order,
    });
    const lineDs = (fit: number[][], color: string, width: number, order: number, dash?: number[], offset = 0) => ({
      data: fitPoints(fit),
      borderColor: color,
      borderWidth: width,
      borderDash: dash || [],
      borderDashOffset: offset,
      borderCapStyle: "butt",
      pointRadius: 0,
      showLine: true,
      fill: false,
      order,
    });
    const chart = new Chart(ref.current as HTMLCanvasElement, {
      type: "scatter",
      data: {
        datasets: [
          lineDs(PROTO3_FIT, "#a00ff7", 10, 0),
          lineDs(PROTO4_FIT, "#22bb31", 10, 1),
          lineDs(G_FIT, "#dd70c6", 8, 2, [15, 15], 0),
          lineDs(F_FIT, "rgba(150,178,244,0.6)", 8, 3, [15, 15], 15),
          lineDs(PROTO1_FIT, "#12a2d6", 8.5, 4),
          pointDs(PROTO1_COLS, COLORS.P1, 5),
          pointDs(PROTO4_COLS, COLORS.P4, 6),
          pointDs(PROTO3_COLS, COLORS.P3, 7),
          pointDs(G_COLS, COLORS.G, 8),
          pointDs(F_COLS, COLORS.F, 9),
        ] as any,
      },
      options: {
        responsive: false,
        maintainAspectRatio: false,
        animation: false,
        devicePixelRatio: 1,
        events: [],
        layout: { padding: { top: 106, right: 207, left: 0, bottom: 0 } },
        plugins: { legend: { display: false }, title: { display: false }, tooltip: { enabled: false } },
        scales: {
          x: {
            type: "linear",
            min: -0.05,
            max: 0.5,
            grid: { display: false, drawTicks: false },
            border: { display: false },
            ticks: {
              padding: 24,
              color: "#000",
              font: { family: FONT, size: 52 },
              maxRotation: 0,
              autoSkip: false,
              callback: (v: any) => String(Math.round(Number(v) * 10) / 10),
            },
            afterBuildTicks: (s: any) => { s.ticks = X_MAJOR.map((v) => ({ value: v })); },
            afterFit: (s: any) => { s.height = 154; },
          },
          y: {
            type: "linear",
            min: 221.47,
            max: 285.35,
            grid: { display: false, drawTicks: false },
            border: { display: false },
            ticks: {
              padding: 16,
              labelOffset: 5,
              color: "#000",
              font: { family: FONT, size: 52 },
              autoSkip: false,
              callback: (v: any) => String(v),
            },
            afterBuildTicks: (s: any) => { s.ticks = Y_MAJOR.map((v) => ({ value: v })); },
            afterFit: (s: any) => { s.width = 250; },
          },
        },
      } as any,
      plugins: [decor as any],
    });
    return () => chart.destroy();
  }, []);
  return (
    <div style={{ position: "fixed", left: 0, top: 0, width: 2497, height: 1383, background: "#0d11bf", overflow: "hidden" }}>
      <div style={{ position: "absolute", left: 47, top: 6, width: 2450, height: 1377, background: "#f7f7f7" }} />
      <canvas ref={ref} width={2497} height={1383} style={{ position: "absolute", left: 0, top: 0, width: 2497, height: 1383 }} />
    </div>
  );
}
